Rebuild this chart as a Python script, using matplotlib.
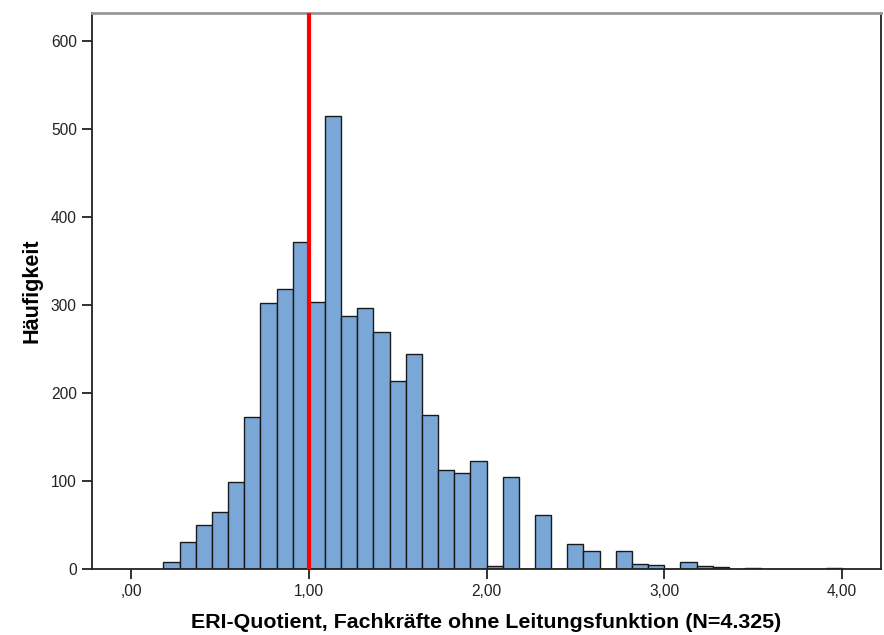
import numpy as np
import matplotlib.pyplot as plt

plt.rcParams['font.family'] = ['Liberation Sans', 'DejaVu Sans']

# Häufigkeiten je Klasse, Klassenbreite 1/11 ab 2/11
bin_width = 1 / 11
first_bin = 2
counts = [8, 30, 50, 65, 99, 172, 302, 318, 372, 303,
          515, 288, 296, 269, 214, 244, 175, 112, 109, 123,
          3, 104, 0, 61, 0, 28, 20, 0, 20, 5,
          4, 0, 8, 3, 2, 0, 1, 0, 0, 0,
          0, 1]
x_ticks = [0, 1, 2, 3, 4]
x_ticklabels = [',00', '1,00', '2,00', '3,00', '4,00']
y_ticks = [0, 100, 200, 300, 400, 500, 600]
ref_line = 1.0

left_edges = (first_bin + np.arange(len(counts))) * bin_width

fig = plt.figure(figsize=(8.84, 6.35), dpi=100)
ax = fig.add_axes([0.1041, 0.1044, 0.8925, 0.875])

ax.bar(left_edges, counts, width=bin_width, align='edge',
       color='#7AA6D8', edgecolor='#1a1a1a', linewidth=1.0, zorder=2)
ax.axvline(ref_line, color='#ff0000', linewidth=3, zorder=3)

ax.set_xlim(-0.22, 4.22)
ax.set_ylim(0, 632)
ax.set_xticks(x_ticks)
ax.set_xticklabels(x_ticklabels)
ax.set_yticks(y_ticks)
ax.tick_params(axis='both', direction='out', length=7, width=1.3,
               labelsize=11.2, colors='#222222', pad=4)

for s in ['left', 'bottom', 'right']:
    ax.spines[s].set_color('#222222')
    ax.spines[s].set_linewidth(1.3)
ax.spines['top'].set_color('#999999')
ax.spines['top'].set_linewidth(2)

ax.set_xlabel('ERI-Quotient, Fachkräfte ohne Leitungsfunktion (N=4.325)',
              fontsize=15.4, fontweight='bold', labelpad=10)
ax.set_ylabel('Häufigkeit', fontsize=15.6, fontweight='bold', labelpad=6)

fig.savefig('out.png', dpi=100)
